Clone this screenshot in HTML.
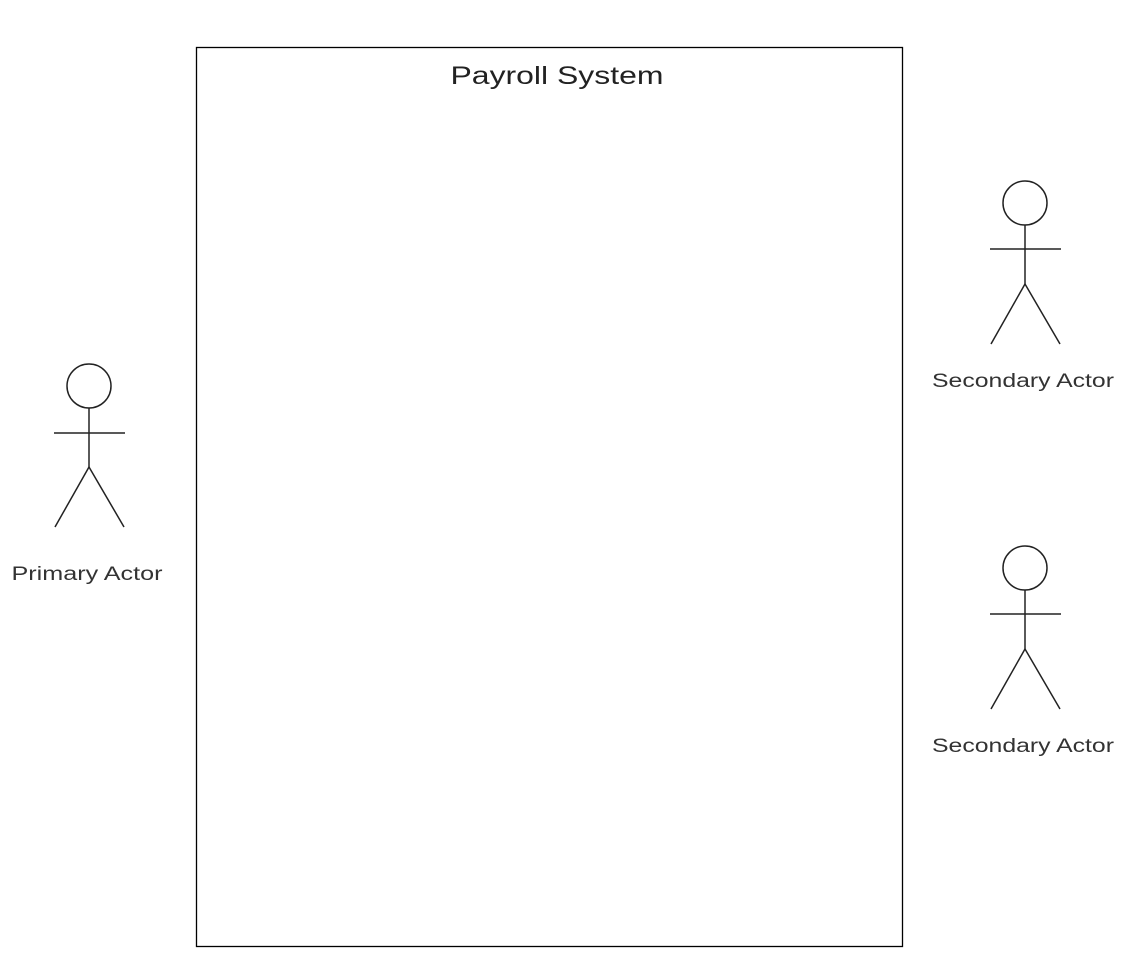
<!DOCTYPE html>
<html><head><meta charset="utf-8"><style>html,body{margin:0;padding:0;background:#fff}</style></head>
<body>
<svg width="1134" height="974" viewBox="0 0 1134 974" xmlns="http://www.w3.org/2000/svg" font-family="Liberation Sans, sans-serif">
<rect x="196.5" y="47.5" width="706" height="899" fill="#fff" stroke="#000" stroke-width="1.3"/>
<text x="557" y="84" font-size="25" text-anchor="middle" fill="#222" textLength="213" lengthAdjust="spacingAndGlyphs">Payroll System</text>
<g fill="none" stroke="#222" stroke-width="1.5">
<circle cx="89" cy="386" r="22"/>
<line x1="89" y1="408" x2="89" y2="467"/>
<line x1="54" y1="433" x2="125" y2="433"/>
<line x1="89" y1="467" x2="55" y2="527"/>
<line x1="89" y1="467" x2="124" y2="527"/>
<circle cx="1025" cy="203" r="22"/>
<line x1="1025" y1="225" x2="1025" y2="284"/>
<line x1="990" y1="249" x2="1061" y2="249"/>
<line x1="1025" y1="284" x2="991" y2="344"/>
<line x1="1025" y1="284" x2="1060" y2="344"/>
<circle cx="1025" cy="568" r="22"/>
<line x1="1025" y1="590" x2="1025" y2="649"/>
<line x1="990" y1="614" x2="1061" y2="614"/>
<line x1="1025" y1="649" x2="991" y2="709"/>
<line x1="1025" y1="649" x2="1060" y2="709"/>
</g>
<g font-size="19" fill="#333" text-anchor="middle">
<text x="87" y="580" textLength="151" lengthAdjust="spacingAndGlyphs">Primary Actor</text>
<text x="1023" y="387" textLength="182" lengthAdjust="spacingAndGlyphs">Secondary Actor</text>
<text x="1023" y="752" textLength="182" lengthAdjust="spacingAndGlyphs">Secondary Actor</text>
</g>
</svg>
</body></html>
